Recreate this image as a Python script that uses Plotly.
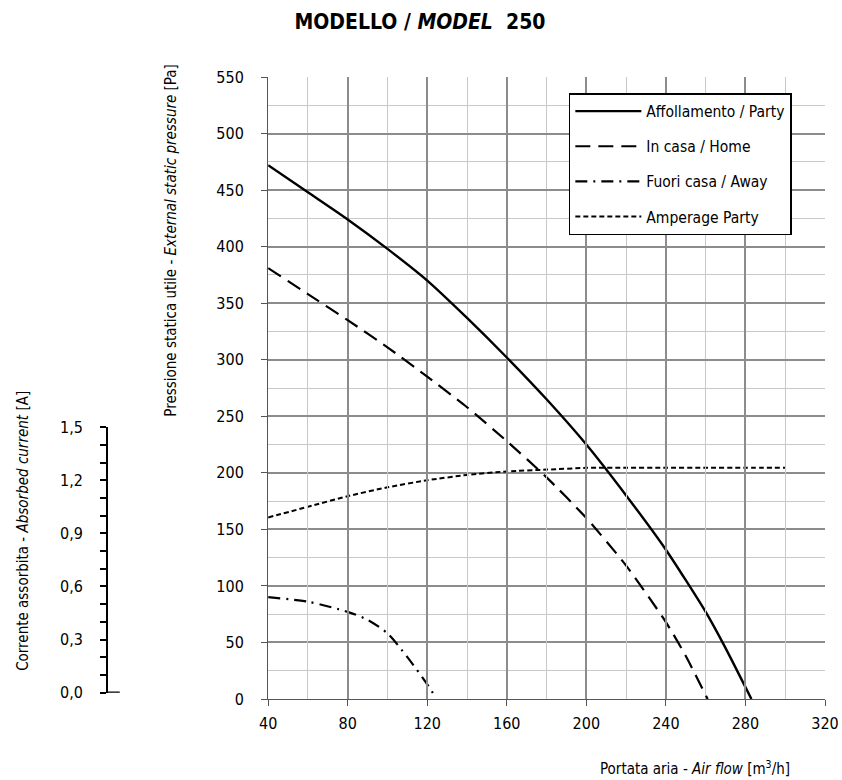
import plotly.graph_objects as go

# ---------------- data ----------------
flow_party = [40, 60, 80, 100, 120, 140, 160, 180, 200, 220, 240, 260, 270, 283]
press_party = [472, 448, 424, 398, 370, 337, 302, 265, 225, 180, 132, 77, 45, 0]

flow_home = [40, 60, 80, 100, 120, 140, 160, 180, 200, 220, 240, 250, 261]
press_home = [381, 358, 335, 311, 285, 258, 228, 196, 160, 118, 68, 38, 0]

flow_away = [40, 60, 80, 90, 100, 110, 120, 124]
press_away = [90, 86, 77, 70, 58, 37, 13, 2]

flow_amp = [40, 60, 80, 100, 120, 140, 160, 180, 200, 220, 240, 260, 280, 300]
amp_party = [0.99, 1.05, 1.11, 1.16, 1.20, 1.23, 1.25, 1.26, 1.27, 1.27, 1.27, 1.27, 1.27, 1.27]

x_ticks = [40, 80, 120, 160, 200, 240, 280, 320]
y_ticks = [0, 50, 100, 150, 200, 250, 300, 350, 400, 450, 500, 550]
cur_ticks = [0.0, 0.3, 0.6, 0.9, 1.2, 1.5]
cur_labels = ["0,0", "0,3", "0,6", "0,9", "1,2", "1,5"]

# ---------------- layout geometry ----------------
W, H = 842, 780
ML, MR, MT, MB = 0, 17, 77, 81
PW = W - ML - MR
PH = H - MT - MB
plot_left_px = 262
xdom0 = plot_left_px / PW

P_MAX = 550.0
# pressure values at which current 0 and 1.5 A sit
P_AT_0A = 5.56
P_AT_15A = 240.4
amp_per_p = 1.5 / (P_AT_15A - P_AT_0A)
y3_range = [(0 - P_AT_0A) * amp_per_p, (P_MAX - P_AT_0A) * amp_per_p]

FONT = "DejaVu Sans Condensed, Liberation Sans Narrow, Arial Narrow, Liberation Sans, Arial, sans-serif"

fig = go.Figure()

fig.add_trace(go.Scatter(x=flow_party, y=press_party, mode="lines", name="Affollamento / Party",
                         line=dict(color="black", width=2.4, shape="spline", smoothing=0.6),
                         legendgroup="a"))
fig.add_trace(go.Scatter(x=flow_home, y=press_home, mode="lines", name="In casa / Home",
                         line=dict(color="black", width=2.2, dash="15px,8px", shape="spline", smoothing=0.6),
                         legendgroup="b"))
fig.add_trace(go.Scatter(x=flow_away, y=press_away, mode="lines", name="Fuori casa / Away",
                         line=dict(color="black", width=2.2, dash="12px,6px,2px,6px", shape="spline", smoothing=0.8),
                         legendgroup="c"))
fig.add_trace(go.Scatter(x=flow_amp, y=amp_party, mode="lines", name="Amperage Party", yaxis="y3",
                         line=dict(color="black", width=2, dash="5px,3px", shape="spline", smoothing=0.6),
                         legendgroup="d"))

fig.update_layout(
    width=W, height=H,
    margin=dict(l=ML, r=MR, t=MT, b=MB),
    paper_bgcolor="white", plot_bgcolor="rgba(0,0,0,0)",
    font=dict(family=FONT, color="black", size=16),
    title=dict(text="<b>MODELLO / <i>MODEL</i>&nbsp;&nbsp;250</b>", x=420 / W, xanchor="center",
               y=1 - 22 / H, yanchor="middle", font=dict(size=21, family=FONT)),
    showlegend=True,
    legend=dict(x=xdom0 + (566 - plot_left_px) / PW, y=(H - MB - 93) / PH,
                xanchor="left", yanchor="top", bgcolor="white", bordercolor="black", borderwidth=1.5,
                font=dict(size=15.5, family=FONT), traceorder="grouped", tracegroupgap=12,
                itemwidth=66),
    xaxis=dict(domain=[xdom0, 1], range=[40, 320], tickvals=x_ticks, ticks="outside", ticklen=6,
               tickcolor="#555", showline=True, linecolor="#555", linewidth=1.2,
               showgrid=True, gridcolor="#8c8c8c", gridwidth=2, zeroline=False,
               minor=dict(dtick=20, tick0=40, showgrid=True, gridcolor="#c8c8c8", gridwidth=1),
               tickfont=dict(size=16), ticklabelstandoff=4),
    yaxis=dict(domain=[0, 1], range=[0, P_MAX], tickvals=y_ticks, ticks="outside", ticklen=6,
               tickcolor="#555", showline=True, linecolor="#555", linewidth=1.2,
               showgrid=True, gridcolor="#8c8c8c", gridwidth=2, zeroline=False,
               minor=dict(dtick=25, tick0=0, showgrid=True, gridcolor="#c8c8c8", gridwidth=1),
               tickfont=dict(size=16), ticklabelstandoff=14),
    yaxis2=dict(domain=[P_AT_0A / P_MAX, P_AT_15A / P_MAX], range=[0, 1.5], anchor="free",
                position=99.3 / PW, side="left", tickvals=cur_ticks, ticktext=cur_labels,
                ticks="outside", ticklen=6, tickwidth=2, tickcolor="black",
                showline=True, linecolor="black", linewidth=2.2, showgrid=False, zeroline=False,
                minor=dict(dtick=0.1, tick0=0, ticks="outside", ticklen=6, tickwidth=2, tickcolor="black"),
                tickfont=dict(size=16), ticklabelstandoff=14),
    yaxis3=dict(overlaying="y", range=y3_range, visible=False, showgrid=False, zeroline=False),
)

# base stub of the current axis at 0,0
fig.add_shape(type="line", xref="paper", yref="y2", x0=99.3 / PW, x1=112 / PW, y0=0, y1=0,
              line=dict(color="black", width=2.2))

# axis titles
fig.add_annotation(text="Portata aria - <i>Air flow</i> [m<sup>3</sup>/h]", xref="paper", yref="paper",
                   x=792 / PW, y=(H - MB - 768) / PH, xanchor="right", yanchor="middle",
                   showarrow=False, font=dict(size=15, family=FONT))
fig.add_annotation(text="Pressione statica utile - <i>External static pressure</i> [Pa]", xref="paper", yref="paper",
                   x=164 / PW, y=(H - MB - 62) / PH, xanchor="center", yanchor="top", textangle=-90,
                   showarrow=False, font=dict(size=15, family=FONT))
fig.add_annotation(text="Corrente assorbita - <i>Absorbed current</i> [A]", xref="paper", yref="paper",
                   x=14 / PW, y=(H - MB - 673) / PH, xanchor="center", yanchor="bottom", textangle=-90,
                   showarrow=False, font=dict(size=15, family=FONT))

fig.write_html("out.html")
